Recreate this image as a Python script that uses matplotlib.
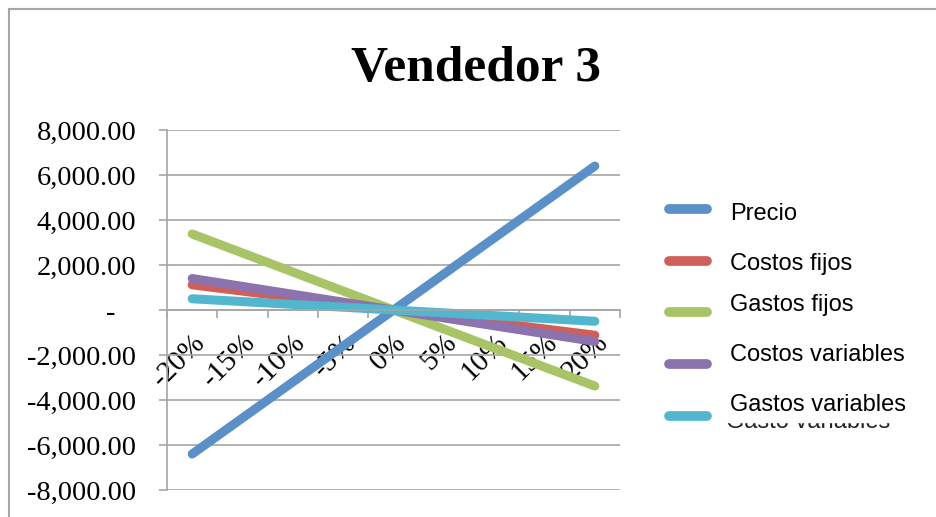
import matplotlib.pyplot as plt
from matplotlib.lines import Line2D
from matplotlib.patches import Rectangle
from matplotlib.ticker import FuncFormatter, FixedLocator


# categories on the x axis
categorias = ['-20%', '-15%', '-10%', '-5%', '0%', '5%', '10%', '15%', '20%']

# one list per series
precio = [-6400, -4800, -3200, -1600, 0, 1600, 3200, 4800, 6400]
costos_fijos = [1120, 840, 560, 280, 0, -280, -560, -840, -1120]
gastos_fijos = [3380, 2535, 1690, 845, 0, -845, -1690, -2535, -3380]
costos_variables = [1400, 1050, 700, 350, 0, -350, -700, -1050, -1400]
gastos_variables = [500, 375, 250, 125, 0, -125, -250, -375, -500]

series = [
	('Precio', precio, '#5b8fc8'),
	('Costos fijos', costos_fijos, '#cf5f5a'),
	('Gastos fijos', gastos_fijos, '#a8c466'),
	('Costos variables', costos_variables, '#8c73ad'),
	('Gastos variables', gastos_variables, '#52b6ce'),
]

gris = '#a6a6a6'
serif = 'Liberation Serif'
sans = 'Liberation Sans'


def etiqueta_y(v, pos):
	# excel accounting style, zero shows as a dash
	if v == 0:
		return '-   '
	return '{:,.2f}'.format(v)


fig = plt.figure(figsize=(9.36, 5.17), dpi=100)
ax = fig.add_axes([0.1784, 0.0522, 0.4840, 0.6963])

x = list(range(len(categorias)))
for nombre, valores, color in series:
	ax.plot(x, valores, color=color, lw=6.5, solid_capstyle='round', label=nombre)

ax.set_xlim(-0.5, len(categorias) - 0.5)
ax.set_ylim(-8000, 8000)
ax.set_yticks(range(-8000, 8001, 2000))
ax.yaxis.set_major_formatter(FuncFormatter(etiqueta_y))
ax.grid(axis='y', color=gris, lw=1.2)
ax.set_axisbelow(True)

# category axis sits on zero, tick marks at the category boundaries
ax.spines['bottom'].set_position(('data', 0))
ax.spines['bottom'].set_color(gris)
ax.spines['bottom'].set_linewidth(1.2)
ax.spines['left'].set_color(gris)
ax.spines['left'].set_linewidth(1.2)
ax.spines['top'].set_visible(False)
ax.spines['right'].set_visible(False)

ax.xaxis.set_major_locator(FixedLocator(x))
ax.xaxis.set_minor_locator(FixedLocator([i - 0.5 for i in range(len(categorias) + 1)]))
ax.set_xticklabels(categorias, rotation=45, ha='right', va='top',
	rotation_mode='anchor', fontfamily=serif, fontsize=21)
ax.tick_params(axis='x', which='major', length=0, pad=14)
ax.tick_params(axis='x', which='minor', length=6, width=1.2, color=gris, direction='out')
ax.tick_params(axis='y', length=6, width=1.2, color=gris, direction='out', pad=16)
for t in ax.get_yticklabels():
	t.set_fontfamily(serif)
	t.set_fontsize(20.5)

fig.text(0.5085, 0.866, 'Vendedor 3', ha='center', va='center',
	fontfamily=serif, fontweight='bold', fontsize=37)

# chart area border, only the top and left edges are inside the crop
fig.add_artist(Line2D([0.0096, 0.0096], [0, 0.983], color=gris, lw=1.5))
fig.add_artist(Line2D([0.0096, 1], [0.983, 0.983], color=gris, lw=1.5))

# stray label peeking out under the last legend entry, mostly hidden
fig.text(0.776, 0.172, 'Gasto variables', fontfamily=sans, fontsize=17,
	color='#222222', zorder=1)
fig.add_artist(Rectangle((0.77, 0.184), 0.2, 0.08, color='white', zorder=2))

leg = fig.legend(loc='upper left', bbox_to_anchor=(0.692, 0.654), frameon=False,
	handlelength=1.6, handletextpad=1.0, labelspacing=1.26,
	prop={'family': sans, 'size': 17})
leg.set_zorder(5)
for h in leg.get_lines():
	h.set_linewidth(7)

# the labels drift upward against their handles in the original
desplazamiento = [-3, -1, 10, 11, 13]
for t, dy in zip(leg.get_texts(), desplazamiento):
	t.set_position((0, dy))

fig.savefig('out.png', dpi=100)
